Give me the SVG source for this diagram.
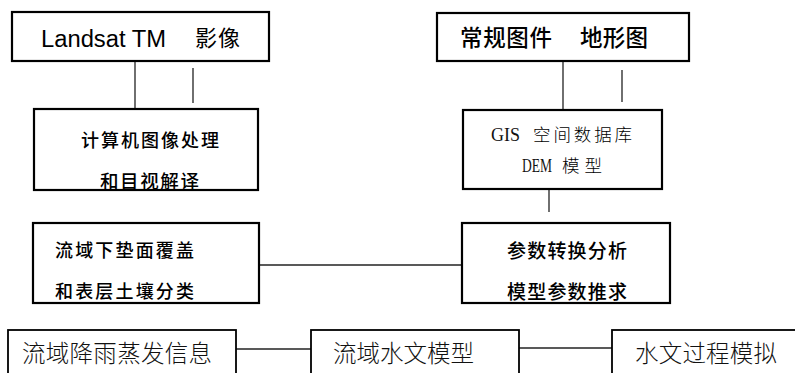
<svg xmlns="http://www.w3.org/2000/svg" width="795" height="373" viewBox="0 0 795 373">
<style>
.box{fill:#fff;stroke:#000;stroke-width:2.2}
.box2{fill:#fff;stroke:#000;stroke-width:1.8}
.ln{stroke:#222;stroke-width:1.3;fill:none}
.sans{font-family:"Liberation Sans",Arial,sans-serif;fill:#000}
.cjk{font-family:"Noto Sans CJK SC","Noto Sans",sans-serif;fill:#000}
.cjkb{font-family:"Noto Sans CJK SC","Noto Sans",sans-serif;fill:#000;font-weight:500}
.cjkl{font-family:"Noto Sans CJK SC","Noto Sans",sans-serif;fill:#111;font-weight:300}
.serif{font-family:"Liberation Serif","Times New Roman",serif;fill:#111}
</style>
<g id="connectors">
<line class="ln" x1="135" y1="61" x2="135" y2="109"/>
<line class="ln" x1="193" y1="68" x2="193" y2="103"/>
<line class="ln" x1="563" y1="61" x2="563" y2="109"/>
<line class="ln" x1="622" y1="70" x2="622" y2="102"/>
<line class="ln" x1="549" y1="183" x2="549" y2="212"/>
<line class="ln" x1="260" y1="265" x2="462" y2="265"/>
<line class="ln" x1="236" y1="349" x2="311" y2="349"/>
<line class="ln" x1="519" y1="348" x2="612" y2="348"/>
</g>
<g id="landsat">
<rect class="box" x="12" y="12" width="257" height="49"/>
<text class="sans" x="41" y="47" font-size="23" textLength="125" lengthAdjust="spacingAndGlyphs">Landsat TM</text>
<text class="cjk" x="195" y="46" font-size="22" textLength="45">影像</text>
</g>
<g id="imgproc">
<rect class="box" x="34" y="109" width="224" height="81"/>
<text class="cjkb" x="81" y="147" font-size="18" textLength="138">计算机图像处理</text>
<text class="cjkb" x="100" y="188" font-size="18.5" textLength="99">和目视解译</text>
</g>
<g id="maps">
<rect class="box" x="437" y="13" width="252" height="48"/>
<text class="cjkb" x="460" y="46" font-size="22.5" textLength="92">常规图件</text>
<text class="cjkb" x="580" y="46" font-size="22.5" textLength="68">地形图</text>
</g>
<g id="gis">
<rect class="box" x="463" y="110" width="199" height="79"/>
<text class="serif" x="491" y="141" font-size="18.5" textLength="29" lengthAdjust="spacingAndGlyphs">GIS</text>
<text class="cjk" x="533" y="141" font-size="17.5" textLength="99" font-weight="300">空间数据库</text>
<text class="serif" x="522" y="172" font-size="18.5" textLength="30" lengthAdjust="spacingAndGlyphs">DEM</text>
<text class="cjk" x="562" y="172" font-size="17.5" textLength="40" font-weight="300">模型</text>
</g>
<g id="landcover">
<rect class="box" x="33" y="223" width="226" height="80"/>
<text class="cjkb" x="55" y="257" font-size="18" textLength="139">流域下垫面覆盖</text>
<text class="cjkb" x="55" y="298" font-size="18" textLength="139">和表层土壤分类</text>
</g>
<g id="params">
<rect class="box" x="462" y="223" width="208" height="80"/>
<text class="cjkb" x="507" y="258" font-size="19" textLength="120">参数转换分析</text>
<text class="cjkb" x="507" y="299" font-size="19" textLength="120">模型参数推求</text>
</g>
<g id="rain">
<rect class="box2" x="8" y="330" width="228" height="60"/>
<text class="cjkl" x="22" y="362" font-size="23.5" textLength="190">流域降雨蒸发信息</text>
</g>
<g id="hydromodel">
<rect class="box2" x="311" y="330" width="208" height="60"/>
<text class="cjkl" x="333" y="362" font-size="23.5" textLength="141">流域水文模型</text>
</g>
<g id="hydrosim">
<rect class="box2" x="612" y="330" width="200" height="60"/>
<text class="cjkl" x="635" y="362" font-size="23.5" textLength="142">水文过程模拟</text>
</g>
</svg>
